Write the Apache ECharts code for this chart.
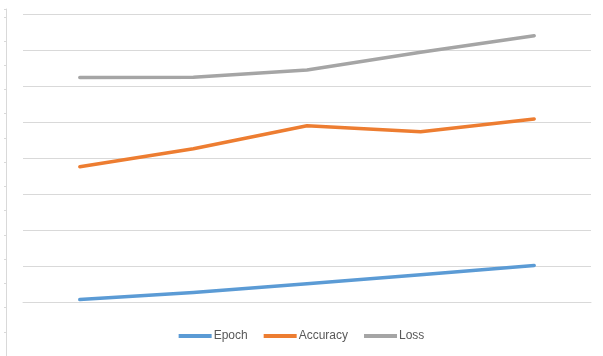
<!DOCTYPE html>
<html>
<head>
<meta charset="UTF-8">
<script src="https://cdn.jsdelivr.net/npm/echarts@6/dist/echarts.min.js"></script>
<style>
    html, body { margin: 0; padding: 0; background: #fff; }
    #chart { width: 603px; height: 356px; }
</style>
</head>
<body>
<div id="chart"></div>
<script type="text/javascript">
    // values
    var categories = ['1', '2', '3', '4', '5'];
    var epoch = [0.08, 0.28, 0.52, 0.77, 1.03];
    var accuracy = [3.77, 4.27, 4.91, 4.74, 5.10];
    var loss = [6.25, 6.26, 6.46, 6.95, 7.41];

    var chart = echarts.init(document.getElementById('chart'));

    var lineSeries = function (name, data, color) {
        return {
            name: name,
            type: 'line',
            data: data,
            xAxisIndex: 0,
            yAxisIndex: 0,
            symbol: 'none',
            lineStyle: { width: 3.5, color: color, cap: 'round', join: 'round' },
            itemStyle: { color: color }
        };
    };

    var option = {
        animation: false,
        legend: {
            data: ['Epoch', 'Accuracy', 'Loss'],
            top: 325,
            left: 'center',
            icon: 'rect',
            itemWidth: 33,
            itemHeight: 4,
            itemGap: 16,
            textStyle: { color: '#595959', fontSize: 12, fontFamily: 'Liberation Sans', padding: [0, 0, 0, -3] }
        },
        grid: [
            { left: 23, right: 12, top: 14.5, bottom: 53.5 },
            { left: 6, width: 1, top: 9, bottom: 0 }
        ],
        xAxis: [
            {
                type: 'category',
                gridIndex: 0,
                data: categories,
                boundaryGap: true,
                axisLine: { lineStyle: { color: '#d9d9d9', width: 1 } },
                axisTick: { show: false },
                axisLabel: { show: false }
            },
            { type: 'value', gridIndex: 1, show: false }
        ],
        yAxis: [
            {
                type: 'value',
                gridIndex: 0,
                min: 0, max: 8, interval: 1,
                axisLine: { show: false },
                axisTick: { show: false },
                axisLabel: { show: false },
                splitLine: { lineStyle: { color: '#d9d9d9', width: 1 } }
            },
            {
                // the thin ruler on the far left edge
                type: 'value',
                gridIndex: 1,
                min: 0, max: 14.32, interval: 1,
                axisLine: { show: true, lineStyle: { color: '#d9d9d9', width: 1 } },
                axisTick: { show: true, length: 2, lineStyle: { color: '#d9d9d9' } },
                axisLabel: { show: false },
                splitLine: { show: false }
            }
        ],
        series: [
            lineSeries('Epoch', epoch, '#5b9bd5'),
            lineSeries('Accuracy', accuracy, '#ed7d31'),
            lineSeries('Loss', loss, '#a5a5a5')
        ]
    };

    chart.setOption(option);
</script>
</body>
</html>
